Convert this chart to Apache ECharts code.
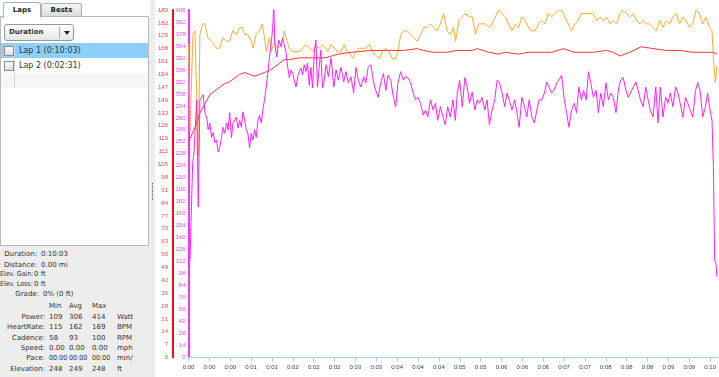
<!DOCTYPE html>
<html>
<head>
<meta charset="utf-8">
<script src="https://cdn.jsdelivr.net/npm/echarts@6/dist/echarts.min.js"></script>
<style>
  body { margin: 0; width: 719px; height: 377px; overflow: hidden; position: relative;
         background: #ededed; font-family: "DejaVu Sans", Verdana, sans-serif; font-size: 7px; color: #333; }
  .abs { position: absolute; white-space: nowrap; }
  #side { position: absolute; left: 0; top: 0; width: 150px; height: 377px; overflow: hidden; }
  #tabbar { position: absolute; left: 0; top: 0; width: 150px; height: 17px; background: #fff; }
  .tab { position: absolute; border: 1px solid #a9b0b8; border-bottom: none; border-radius: 3px 3px 0 0;
         font-weight: bold; text-align: center; color: #222; }
  #panel { position: absolute; left: 0; top: 16px; width: 147px; height: 228px; background: #fff; border: 1px solid #b8b8b8; }
  #dd { position: absolute; left: 3px; top: 7px; width: 68px; height: 15px; border: 1px solid #999; border-radius: 3px;
        background: linear-gradient(#ffffff, #e6e6e6); }
  .row { position: absolute; left: 0; width: 147px; height: 15px; line-height: 15px; font-size: 8px; }
  .chk { position: absolute; left: 3px; top: 3px; width: 8px; height: 8px; border: 1px solid #8c8c8c;
         background: linear-gradient(#ffffff, #dcdcdc); }
  .lbl { position: absolute; text-align: right; white-space: nowrap; line-height: 10px; }
  .val { position: absolute; white-space: nowrap; line-height: 10px; }
  .cond { font-family: "DejaVu Sans Condensed", "DejaVu Sans", sans-serif; }
  #chart { position: absolute; left: 155px; top: 0; width: 564px; height: 377px; background: #fff; }
  #grip { position: absolute; left: 152px; top: 183px; width: 0; height: 17px; border-left: 1px dotted #555; }
</style>
</head>
<body>
<div id="side">
  <div id="tabbar">
    <div class="tab" style="left:3px; top:2px; width:36px; height:15px; line-height:14px; background:#fff; z-index:2;">Laps</div>
    <div class="tab" style="left:41px; top:3px; width:39px; height:13px; line-height:12px; background:linear-gradient(#f6f6f6,#d9d9d9);">Bests</div>
  </div>
  <div id="panel">
    <div id="dd">
      <div class="abs" style="left:4px; top:0; line-height:15px; font-weight:bold;">Duration</div>
      <div class="abs" style="left:54px; top:2px; width:1px; height:11px; background:#aaa;"></div>
      <div class="abs" style="left:59px; top:6px; width:0; height:0; border-left:3px solid transparent; border-right:3px solid transparent; border-top:4px solid #222;"></div>
    </div>
    <div class="row" style="top:26px; background:#8bcffa;"><div class="chk"></div><span class="abs" style="left:18px;">Lap 1 (0:10:03)</span></div>
    <div class="row" style="top:41px; background:#fff;"><div class="chk"></div><span class="abs" style="left:18px;">Lap 2 (0:02:31)</span></div>
    <div class="row" style="top:56px; background:#f6f6f6;"></div>
    <div class="abs" style="left:13px; top:26px; width:1px; height:45px; background:#d6d6d6;"></div>
  </div>

  <div class="lbl" style="right:113px; top:249px;">Duration:</div><div class="val" style="left:41px; top:249px;">0:10:03</div>
  <div class="lbl" style="right:113px; top:260px;">Distance:</div><div class="val" style="left:41px; top:260px;">0.00 mi</div>
  <div class="val cond" style="left:0; top:269px;">Elev. Gain:</div><div class="val" style="left:34px; top:269px;">0 ft</div>
  <div class="val cond" style="left:0; top:279px;">Elev. Loss:</div><div class="val" style="left:34px; top:279px;">0 ft</div>
  <div class="lbl" style="right:111px; top:289px;">Grade:</div><div class="val" style="left:43px; top:289px;">0% (0 ft)</div>

  <div class="val" style="left:49px; top:301px;">Min</div><div class="val" style="left:69px; top:301px;">Avg</div><div class="val" style="left:92px; top:301px;">Max</div>

  <div class="lbl" style="right:105px; top:312px;">Power:</div>
  <div class="val" style="left:49px; top:312px;">109</div><div class="val" style="left:69px; top:312px;">306</div><div class="val" style="left:92px; top:312px;">414</div><div class="val" style="left:117px; top:312px;">Watt</div>
  <div class="lbl" style="right:105px; top:322px;">HeartRate:</div>
  <div class="val" style="left:49px; top:322px;">115</div><div class="val" style="left:69px; top:322px;">162</div><div class="val" style="left:92px; top:322px;">169</div><div class="val" style="left:117px; top:322px;">BPM</div>
  <div class="lbl" style="right:105px; top:333px;">Cadence:</div>
  <div class="val" style="left:49px; top:333px;">58</div><div class="val" style="left:69px; top:333px;">93</div><div class="val" style="left:92px; top:333px;">100</div><div class="val" style="left:117px; top:333px;">RPM</div>
  <div class="lbl" style="right:105px; top:343px;">Speed:</div>
  <div class="val" style="left:49px; top:343px;">0.00</div><div class="val" style="left:69px; top:343px;">0.00</div><div class="val" style="left:92px; top:343px;">0.00</div><div class="val" style="left:117px; top:343px;">mph</div>
  <div class="lbl" style="right:105px; top:353px;">Pace:</div>
  <div class="val cond" style="left:49px; top:353px;">00:00</div><div class="val cond" style="left:69px; top:353px;">00:00</div><div class="val cond" style="left:92px; top:353px;">00:00</div><div class="val" style="left:117px; top:353px;">min/</div>
  <div class="lbl" style="right:105px; top:364px;">Elevation:</div>
  <div class="val" style="left:49px; top:364px;">248</div><div class="val" style="left:69px; top:364px;">249</div><div class="val" style="left:92px; top:364px;">248</div><div class="val" style="left:117px; top:364px;">ft</div>
</div>
<div id="grip"></div>
<div id="chart"></div>

<script>
// elapsed seconds + values
const powerSec = [0,1.7,4.8,6.3,9.4,11.2,13.1,15.1,16.9,18.9,
  20.8,22.6,24.6,26.5,28.3,30.3,32.2,34.1,36,37.9,
  39.8,41.7,43.7,45.5,47.4,49.4,51.2,55.1,56.9,58.9,
  60.8,62.6,64.6,66.5,68.3,70.3,72.2,74.1,76,77.9,
  79.8,81.7,83.7,85.5,87.4,89.4,91.2,93.1,95.1,96.9,
  98.1,99.2,101.5,103.8,106.5,108.3,110.3,112.2,114.1,116,
  117.9,119.8,121.7,123.7,125.5,127.4,129.4,131.2,133.1,135.1,
  136.9,138.9,140.8,142.6,144.6,146.5,148.3,150.3,152.2,154.1,
  155.7,158.3,160.9,164,167.1,169.7,172.3,175.4,178.5,181.1,
  183.8,186.9,189.9,192.6,195.2,198.3,201.4,204,206.6,209.7,
  212.8,215.4,218.1,221.1,224.2,226.9,229.5,232.6,235.7,238.3,
  240.9,244,247.1,249.7,252.3,255.4,258.5,261.1,263.8,266.9,
  269.9,272.6,275.2,278.3,281.4,284,286.6,289.7,292.8,295.4,
  298.1,301.1,304.2,306.9,309.1,311.8,314.9,317.9,320.6,323.2,
  326.3,329.4,332,334.6,337.7,340.8,343.4,346.1,349.1,352.2,
  354.9,357.5,360.6,363.7,366.3,368.9,372,375.1,377.7,380.3,
  383.4,386.5,389.1,391.8,394.9,397.9,400.6,403.2,406.3,409.4,
  412,414.6,417.7,420.8,423.4,426.1,429.1,432.2,434.9,437.5,
  440.6,443.7,446.3,448.9,452,454.3,457.4,460,462.6,465.7,
  468.8,471.4,474.1,477.1,480.2,482.9,485.5,488.6,491.7,494.3,
  496.9,500,503.1,505.7,508.3,511.4,514.5,517.1,519.8,522.9,
  525.9,528.6,531.2,534.3,537.4,540,542.6,545.7,548.8,551.4,
  554.1,557.1,560.2,562.9,565.5,568.6,571.7,574.3,576.9,580,
  583.1,585.7,588.3,591.4,594.5,597.1,599.8,602.1,603.7,605.1,
  606.6,607.8];
const powerW = [109,114,227,239,301,176,301,304,307,286,
  281,266,274,257,263,251,254,240,246,257,
  269,262,274,266,286,257,274,281,268,277,
  269,287,277,266,262,245,262,254,266,257,
  277,283,274,289,301,316,332,351,367,386,
  414,367,351,371,363,373,371,356,339,327,
  336,332,324,316,328,334,338,330,342,334,
  344,318,339,315,356,371,316,339,359,315,
  321,342,328,350,316,336,324,339,322,334,
  321,328,309,339,324,316,328,321,339,342,
  322,312,304,321,332,312,330,324,304,293,
  321,334,324,328,327,321,309,301,304,297,
  283,289,281,301,289,297,277,293,281,272,
  293,281,301,277,309,324,293,327,316,297,
  310,289,301,297,304,289,301,272,289,301,
  324,322,309,293,309,301,289,301,286,269,
  304,293,281,301,281,274,289,301,301,309,
  322,316,309,313,321,324,330,301,286,269,
  289,297,286,316,301,312,301,334,321,304,
  312,286,309,293,321,301,309,304,286,312,
  324,327,312,304,309,316,322,312,301,293,
  316,301,289,281,316,274,316,281,304,297,
  309,293,316,309,297,281,304,297,289,281,
  312,321,312,281,293,309,289,277,222,114,
  110,94];

const hrSec = [0,1.7,7.4,13.1,18.9,24.6,30.3,36,41.7,47.4,
  53.1,58.9,64.6,70.3,76,81.7,87.4,93.1,98.9,104.6,
  110.3,116,127.4,138.9,150.3,157.9,171.7,186.9,209.7,228.8,
  247.4,263.1,270.3,281.7,297.4,308.8,326.3,332,345.4,356.8,
  364,379.7,391.1,406.3,417.7,431.1,444,459.7,465.7,480.6,
  488.6,496.2,507.7,520.6,534.3,549.1,564.8,580,594.9,602.9,
  608];
const hrBpm = [115,119,125,133,138,143,145,147,149,150,
  152,154,155,154,153,154,155,156,158,160,
  162,162,163,163,163,163,165,166,167,167,
  167,168,167,166,166,167,167,168,166,165,
  166,165,166,166,166,168,166,166,166,167,
  166,164,166,169,168,167,167,166,166,166,
  165];

const cadSec = [0,1.7,5.1,7.4,9.7,11.4,13.1,16.2,18.9,22.3,
  26.5,32.2,36,39.4,43.7,47.4,50.9,55.1,58.9,61.9,
  64.6,68.3,72.2,74.1,77.9,81.7,84.8,87.4,89.4,93.1,
  95.1,98.9,102.6,106.5,110.3,112.2,116,119.8,123.7,127.4,
  131.2,135.1,138.9,142.6,146.5,150.3,154.1,157.9,160.2,164,
  167.4,171.7,175.4,178.9,183.1,186.9,188.8,192.6,196.3,200.2,
  204,207.8,211.7,215.4,219.2,223.1,226.9,230.6,234.5,238.3,
  240.9,244,247.8,251.7,255.4,259.2,263.1,266.9,270.6,274.5,
  278.3,282.1,286,289.7,293.5,297.4,301.1,304.9,307.2,311.1,
  314.9,318.6,322.5,326.3,330.1,333.9,337.7,341.5,345.4,349.1,
  352.9,356.8,360.6,364.3,368.2,372,375.8,379.7,383.4,387.2,
  391.1,394.9,398.6,402.5,406.3,410,413.9,417.7,421.5,425.4,
  429.1,432.9,436.8,440.6,444.3,448.2,452,455.8,459.7,461.9,
  465.7,469.5,473.4,477.1,480.9,484.8,488.6,492.3,496.2,500,
  503.8,507.7,511.4,515.2,519.1,522.9,526.6,530.5,534.3,538.1,
  542,545.7,549.5,553.4,557.1,560.9,564.8,568.6,572.3,576.2,
  580,583.8,587.7,591.4,595.2,599.1,602.1,603.7,606,607.8];
const cadRpm = [90,65,93,94,94,58,93,96,96,92,
  91,89,89,92,91,91,94,93,95,95,
  93,93,91,89,93,94,96,92,88,92,
  88,91,89,90,94,92,89,88,88,88,
  89,90,89,88,90,89,90,89,88,90,
  89,88,88,90,88,87,86,88,89,89,
  89,90,88,87,86,88,89,88,86,86,
  88,93,94,94,93,92,91,93,95,95,
  96,95,94,96,99,94,93,95,91,97,
  98,99,98,98,93,96,96,96,95,96,
  98,100,99,98,96,94,96,95,98,97,
  95,94,94,96,97,96,99,98,99,100,
  100,98,96,94,96,97,99,99,99,99,
  99,97,98,97,98,96,97,96,99,100,
  99,98,99,97,96,97,96,96,95,94,
  97,95,97,96,98,99,96,98,97,95,
  96,100,99,96,98,95,94,86,79,84];

function zip(xs, ys) {
  return xs.map((x, i) => [x, ys[i]]);
}
function clock(v) {
  const m = Math.floor(v / 60);
  return '0:' + (m < 10 ? '0' : '') + m;
}

const chart = echarts.init(document.getElementById('chart'));
chart.setOption({
  animation: false,
  grid: { left: 31.5, right: 0, top: 10, bottom: 19.5, containLabel: false },
  xAxis: {
    type: 'value', min: 0, max: 609, interval: 24,
    axisLine: { onZero: false, lineStyle: { color: '#a9cdea', width: 1 } },
    axisTick: { show: true, length: 4, lineStyle: { color: '#a9cdea' } },
    axisLabel: { formatter: clock, color: '#444', fontSize: 6, fontFamily: 'Liberation Sans', margin: 7, showMaxLabel: false },
    splitLine: { show: false }
  },
  yAxis: [
    {
      type: 'value', position: 'left', offset: 0, min: 0, max: 406, interval: 14,
      axisLine: { show: true, onZero: false, lineStyle: { color: '#ff33ff', width: 2 } },
      axisTick: { show: false },
      axisLabel: { color: '#ff44ff', fontSize: 6, fontFamily: 'Liberation Sans', margin: 3 },
      splitLine: { show: false }
    },
    {
      type: 'value', position: 'left', offset: 15.5, min: 0, max: 189, interval: 7,
      axisLine: { show: true, onZero: false, lineStyle: { color: '#ee1111', width: 2 } },
      axisTick: { show: false },
      axisLabel: { color: '#ff4444', fontSize: 6, fontFamily: 'Liberation Sans', margin: 5 },
      splitLine: { show: false }
    },
    { type: 'value', show: false, min: 0, max: 100, splitLine: { show: false } }
  ],
  series: [
    { name: 'Cadence', type: 'line', yAxisIndex: 2, data: zip(cadSec, cadRpm), showSymbol: false,
      lineStyle: { color: '#ffaa33', width: 1 }, itemStyle: { color: '#ffaa33' } },
    { name: 'HeartRate', type: 'line', yAxisIndex: 1, data: zip(hrSec, hrBpm), showSymbol: false,
      lineStyle: { color: '#ff3333', width: 1 }, itemStyle: { color: '#ff3333' } },
    { name: 'Power', type: 'line', yAxisIndex: 0, data: zip(powerSec, powerW), showSymbol: false,
      lineStyle: { color: '#ff22ff', width: 1 }, itemStyle: { color: '#ff22ff' } }
  ]
});
</script>
</body>
</html>
